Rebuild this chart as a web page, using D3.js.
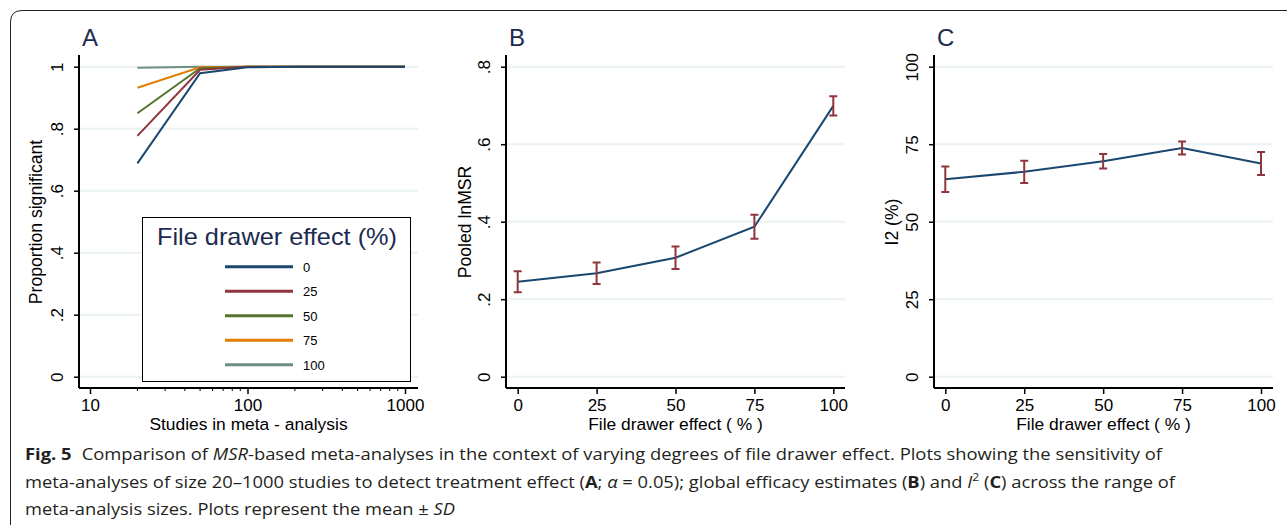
<!DOCTYPE html>
<html>
<head>
<meta charset="utf-8">
<script src="https://cdn.jsdelivr.net/npm/d3@7"></script>
<style>
  body { margin: 0; background: #fff; }
  .plot text { font-family: "Liberation Sans", Arial, sans-serif; }
  .caption text { font-family: "Open Sans", "Noto Sans", sans-serif; }
</style>
</head>
<body>
<svg id="chart" width="1287" height="525"></svg>
<script>
// Panel A: proportion significant by meta-analysis size, one line per file drawer level
const fileDrawerLevels = ["0", "25", "50", "75", "100"];
const studySizes = [20, 50, 100, 200, 500, 1000];
const propSig0 = [0.688, 0.979, 0.998, 1, 1, 1];
const propSig25 = [0.777, 0.99, 1, 1, 1, 1];
const propSig50 = [0.85, 0.995, 1, 1, 1, 1];
const propSig75 = [0.932, 0.998, 1, 1, 1, 1];
const propSig100 = [0.997, 1, 1, 1, 1, 1];
const yTicksA = [0, 0.2, 0.4, 0.6, 0.8, 1];
const xTicksA = [10, 100, 1000];

// Panels B and C: mean and SD by file drawer effect
const fileDrawer = [0, 25, 50, 75, 100];
const pooledMean = [0.245, 0.267, 0.307, 0.387, 0.699];
const pooledSd = [0.027, 0.028, 0.029, 0.031, 0.025];
const i2Mean = [63.7, 66.1, 69.5, 73.8, 68.8];
const i2Sd = [4.1, 3.6, 2.3, 2.1, 3.7];
const yTicksB = [0, 0.2, 0.4, 0.6, 0.8];
const yTicksC = [0, 25, 50, 75, 100];

const lineColors = ["#1a476f", "#90353b", "#55752f", "#e37e00", "#6e8e84"];
const errColor = "#90353b";
const gridColor = "#eaf2f3";
const titleColor = "#1c2b50";

const svg = d3.select("#chart");
const plot = svg.append("g").attr("class", "plot");

// outer frame
svg.append("path")
  .attr("d", "M10.5,530 L10.5,22 Q10.5,10.5 22,10.5 L1300,10.5")
  .attr("fill", "none").attr("stroke", "#222").attr("stroke-width", 1);

const fmtDot = d => d === 0 ? "0" : d === 1 ? "1" : String(d).replace(/^0/, "");

function drawFrame(o) {
  const g = plot.append("g");
  // gridlines
  g.selectAll("line.grid").data(o.yTicks).join("line")
    .attr("x1", o.left).attr("x2", o.right)
    .attr("y1", d => o.y(d)).attr("y2", d => o.y(d))
    .attr("stroke", gridColor).attr("stroke-width", 2);

  const ya = g.append("g").attr("transform", `translate(${o.left},0)`)
    .call(d3.axisLeft(o.y).tickValues(o.yTicks).tickFormat(o.yFmt).tickSize(5).tickSizeOuter(0));
  ya.select(".domain").attr("d", `M0,55V${o.bottom}`).attr("stroke-width", 2);
  ya.selectAll(".tick line").attr("stroke-width", 1.5);
  ya.selectAll(".tick text")
    .attr("transform", "rotate(-90)").attr("x", 0).attr("y", -16).attr("dy", null)
    .attr("text-anchor", "middle").attr("font-size", 17).attr("fill", "#000");

  const xa = g.append("g").attr("transform", `translate(0,${o.bottom})`)
    .call(o.xAxis.tickSize(6).tickSizeOuter(0));
  xa.select(".domain").attr("d", `M${o.left},0H${o.right}`).attr("stroke-width", 2);
  xa.selectAll(".tick line").attr("stroke-width", 1.5);
  xa.selectAll(".tick text").attr("y", 11).attr("dy", "0.71em")
    .attr("font-size", 17).attr("fill", "#000");

  g.append("text").attr("x", o.left + 3).attr("y", 46)
    .attr("font-size", 24).attr("fill", titleColor).text(o.title);

  g.append("text").attr("transform", `translate(${o.ylabX},222) rotate(-90)`)
    .attr("text-anchor", "middle").attr("font-size", 17.6).text(o.ylab);
  g.append("text").attr("x", (o.left + o.right) / 2).attr("y", 430)
    .attr("text-anchor", "middle").attr("font-size", 17.4).text(o.xlab);
  return g;
}

// ---------- Panel A ----------
const xA = d3.scaleLog().domain([10, 1000]).range([90, 405]);
const yA = d3.scaleLinear().domain([0, 1]).range([376.7, 66.7]);
const gA = drawFrame({
  left: 79, right: 418, bottom: 388, y: yA, yTicks: yTicksA, yFmt: fmtDot,
  xAxis: d3.axisBottom(xA).tickValues(xTicksA).tickFormat(d3.format("d")),
  title: "A", ylab: "Proportion significant", ylabX: 42, xlab: "Studies in meta - analysis"
});
// minor log ticks
const minorA = d3.range(20, 100, 10).concat(d3.range(200, 1000, 100));
gA.append("g").selectAll("line").data(minorA).join("line")
  .attr("x1", d => xA(d)).attr("x2", d => xA(d))
  .attr("y1", 388).attr("y2", 391).attr("stroke", "#000").attr("stroke-width", 1);

const seriesA = [propSig0, propSig25, propSig50, propSig75, propSig100];
const lineA = d3.line().x((d, i) => xA(studySizes[i])).y(d => yA(d));
seriesA.slice().reverse().forEach((s, j) => {
  const i = seriesA.length - 1 - j;
  gA.append("path").datum(s).attr("d", lineA)
    .attr("fill", "none").attr("stroke", lineColors[i]).attr("stroke-width", 2);
});

// legend
const lg = gA.append("g");
lg.append("rect").attr("x", 142.5).attr("y", 217.5).attr("width", 268).attr("height", 164)
  .attr("fill", "#fff").attr("stroke", "#000").attr("stroke-width", 1);
lg.append("text").attr("x", 157).attr("y", 245)
  .attr("textLength", 240).attr("lengthAdjust", "spacingAndGlyphs")
  .attr("font-size", 24).attr("fill", titleColor).text("File drawer effect (%)");
const lgY = d3.scalePoint().domain(fileDrawerLevels).range([266.7, 364.7]);
lg.selectAll("line.k").data(fileDrawerLevels).join("line")
  .attr("x1", 225).attr("x2", 293)
  .attr("y1", d => lgY(d)).attr("y2", d => lgY(d))
  .attr("stroke", (d, i) => lineColors[i]).attr("stroke-width", 3);
lg.selectAll("text.k").data(fileDrawerLevels).join("text")
  .attr("x", 303).attr("y", d => lgY(d) + 5).attr("font-size", 13).text(d => d);

// ---------- Panels B and C ----------
function errorPanel(o) {
  const x = d3.scaleLinear().domain([0, 100]).range(o.xRange);
  const g = drawFrame({
    left: o.left, right: o.right, bottom: 388, y: o.y, yTicks: o.yTicks, yFmt: o.yFmt,
    xAxis: d3.axisBottom(x).tickValues(fileDrawer),
    title: o.title, ylab: o.ylab, ylabX: o.ylabX, xlab: "File drawer effect ( % )"
  });
  g.append("path").datum(o.mean)
    .attr("d", d3.line().x((d, i) => x(fileDrawer[i])).y(d => o.y(d)))
    .attr("fill", "none").attr("stroke", lineColors[0]).attr("stroke-width", 2);
  const eb = g.append("g").attr("stroke", errColor).attr("stroke-width", 2).attr("fill", "none");
  o.mean.forEach((m, i) => {
    const cx = x(fileDrawer[i]);
    const y1 = o.y(m + o.sd[i]), y2 = o.y(m - o.sd[i]);
    eb.append("path").attr("d", `M${cx - 4},${y1}H${cx + 4}M${cx},${y1}V${y2}M${cx - 4},${y2}H${cx + 4}`);
  });
}

errorPanel({
  left: 506, right: 845, xRange: [517.7, 833.3],
  y: d3.scaleLinear().domain([0, 0.8]).range([376.7, 66.7]),
  yTicks: yTicksB, yFmt: fmtDot, mean: pooledMean, sd: pooledSd,
  title: "B", ylab: "Pooled lnMSR", ylabX: 471
});
errorPanel({
  left: 934, right: 1273, xRange: [945.3, 1261],
  y: d3.scaleLinear().domain([0, 100]).range([376.7, 66.7]),
  yTicks: yTicksC, yFmt: d3.format("d"), mean: i2Mean, sd: i2Sd,
  title: "C", ylab: "I2 (%)", ylabX: 898
});

// ---------- caption ----------
const cap = svg.append("g").attr("class", "caption").attr("fill", "#231f20").attr("font-size", 16.5);
const l1 = cap.append("text").attr("x", 25).attr("y", 460)
  .attr("textLength", 1137).attr("lengthAdjust", "spacingAndGlyphs");
l1.append("tspan").attr("font-weight", "bold").text("Fig. 5");
l1.append("tspan").attr("dx", 9).text("Comparison of ");
l1.append("tspan").attr("font-style", "italic").text("MSR");
l1.append("tspan").text("-based meta-analyses in the context of varying degrees of file drawer effect. Plots showing the sensitivity of");

const l2 = cap.append("text").attr("x", 25).attr("y", 488)
  .attr("textLength", 1150).attr("lengthAdjust", "spacingAndGlyphs");
l2.append("tspan").text("meta-analyses of size 20\u20131000 studies to detect treatment effect (");
l2.append("tspan").attr("font-weight", "bold").text("A");
l2.append("tspan").text("; ");
l2.append("tspan").attr("font-style", "italic").text("\u03b1");
l2.append("tspan").text(" = 0.05); global efficacy estimates (");
l2.append("tspan").attr("font-weight", "bold").text("B");
l2.append("tspan").text(") and ");
l2.append("tspan").attr("font-style", "italic").text("I");
l2.append("tspan").attr("font-size", 11).attr("dy", -7).text("2");
l2.append("tspan").attr("dy", 7).text(" (");
l2.append("tspan").attr("font-weight", "bold").text("C");
l2.append("tspan").text(") across the range of");

const l3 = cap.append("text").attr("x", 25).attr("y", 515)
  .attr("textLength", 430).attr("lengthAdjust", "spacingAndGlyphs");
l3.append("tspan").text("meta-analysis sizes. Plots represent the mean \u00b1 ");
l3.append("tspan").attr("font-style", "italic").text("SD");
</script>
</body>
</html>
